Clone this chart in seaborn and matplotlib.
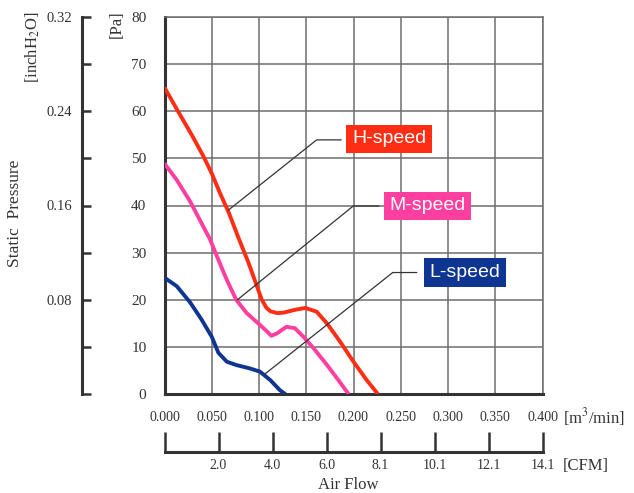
import numpy as np
import pandas as pd
import seaborn as sns
import matplotlib
matplotlib.use("Agg")
import matplotlib.pyplot as plt

# fan P-Q curves
h_flow = [0.000, 0.013, 0.029, 0.041, 0.050, 0.059, 0.068, 0.078, 0.089, 0.098, 0.103, 0.108,
          0.112, 0.119, 0.126, 0.138, 0.149, 0.161, 0.172, 0.186, 0.200, 0.214, 0.226]
h_pres = [65.0, 60.4, 54.9, 50.5, 46.8, 42.5, 38.5, 33.3, 27.8, 22.8, 20.0, 18.3,
          17.6, 17.2, 17.3, 17.9, 18.3, 17.5, 15.0, 11.1, 6.9, 3.0, 0.0]

m_flow = [0.000, 0.013, 0.027, 0.048, 0.057, 0.066, 0.076, 0.087, 0.101, 0.108, 0.113,
          0.119, 0.129, 0.138, 0.147, 0.158, 0.172, 0.184, 0.195]
m_pres = [48.9, 45.4, 40.9, 32.9, 28.5, 24.2, 20.0, 17.2, 14.7, 13.4, 12.4,
          12.9, 14.3, 14.0, 12.2, 9.7, 6.2, 3.0, 0.0]

l_flow = [0.000, 0.013, 0.027, 0.039, 0.050, 0.057, 0.066, 0.076, 0.090, 0.101, 0.112, 0.122, 0.128]
l_pres = [24.7, 22.9, 19.5, 15.9, 12.2, 8.8, 6.9, 6.2, 5.5, 4.8, 3.0, 0.9, 0.0]

speed_names = ["H-speed", "M-speed", "L-speed"]
speed_colors = ["#FF2D14", "#FF3FA0", "#0E3591"]

# label boxes (centre) and leader lines: curve point -> elbow -> box
label_xy = [(0.2376, 54.1), (0.2783, 39.9), (0.318, 25.8)]
leader_x = [[0.0675, 0.161, 0.187], [0.077, 0.1998, 0.227], [0.1063, 0.2415, 0.267]]
leader_y = [[39.0, 53.9, 53.9], [20.0, 39.9, 39.9], [4.3, 25.8, 25.8]]

m3_ticks = [0.0, 0.05, 0.10, 0.15, 0.20, 0.25, 0.30, 0.35, 0.40]
m3_labels = ["0.000", "0.050", "0.100", "0.150", "0.200", "0.250", "0.300", "0.350", "0.400"]
pa_ticks = [0, 10, 20, 30, 40, 50, 60, 70, 80]
inch_ticks = [0.0, 0.04, 0.08, 0.12, 0.16, 0.20, 0.24, 0.28, 0.32]
inch_labels = ["", "", "0.08", "", "0.16", "", "0.24", "", "0.32"]
cfm_labels = ["", "2.0", "4.0", "6.0", "8.1", "10.1", "12.1", "14.1"]
cfm_max = 14.13

sns.set_style("white")
plt.rcParams["font.family"] = ["Liberation Serif", "DejaVu Serif"]
plt.rcParams["mathtext.fontset"] = "stix"

df = pd.concat([
    pd.DataFrame({"flow": h_flow, "pres": h_pres, "speed": "H-speed"}),
    pd.DataFrame({"flow": m_flow, "pres": m_pres, "speed": "M-speed"}),
    pd.DataFrame({"flow": l_flow, "pres": l_pres, "speed": "L-speed"}),
])

W, H = 634, 493
fig = plt.figure(figsize=(W / 100, H / 100), dpi=100)
ax_l, ax_b, ax_w, ax_h = 164.5 / W, 1 - 394.3 / H, 378 / W, 377.6 / H
ax = fig.add_axes([ax_l, ax_b, ax_w, ax_h])

sns.lineplot(data=df, x="flow", y="pres", hue="speed", hue_order=speed_names,
             palette=speed_colors, linewidth=2.8, sort=False, estimator=None,
             legend=False, ax=ax, zorder=3, solid_joinstyle="round", solid_capstyle="butt")

ax.set_xlim(0, 0.4)
ax.set_ylim(0, 80)
ax.set_xticks(m3_ticks)
ax.set_xticklabels(m3_labels)
ax.set_yticks(pa_ticks)
ax.tick_params(axis="x", length=0, pad=12, labelsize=10, labelcolor="#333333")
ax.tick_params(axis="y", length=0, pad=13, labelsize=11, labelcolor="#333333")
ax.grid(True, color="#6e6e6e", linewidth=1.1)
ax.set_xlabel("")
ax.set_ylabel("")
for side in ["left", "bottom"]:
    ax.spines[side].set_color("#333333")
    ax.spines[side].set_linewidth(2.2)
for side in ["top", "right"]:
    ax.spines[side].set_color("#6e6e6e")
    ax.spines[side].set_linewidth(1.1)

for name, col, (lx, ly), xs, ys in zip(speed_names, speed_colors, label_xy, leader_x, leader_y):
    ax.plot(xs, ys, color="#333333", linewidth=0.9, zorder=4)
    ax.text(lx, ly, name, ha="center", va="center", color="white", fontsize=14,
            family=["Liberation Sans", "DejaVu Sans"], zorder=5,
            bbox=dict(boxstyle="square,pad=0.3", facecolor=col, edgecolor="none"))

# secondary pressure axis in inchH2O
ax_in = fig.add_axes([81.7 / W, ax_b, 0.0001, ax_h])
ax_in.set_ylim(0, 0.32)
ax_in.set_yticks(inch_ticks)
ax_in.set_yticklabels(inch_labels)
ax_in.set_xticks([])
ax_in.tick_params(axis="y", left=True, direction="in", length=6.5, width=1.8, color="#333333",
                  pad=7, labelsize=10.5, labelcolor="#333333")
for side in ["top", "right", "bottom"]:
    ax_in.spines[side].set_visible(False)
ax_in.spines["left"].set_color("#333333")
ax_in.spines["left"].set_linewidth(2.2)
ax_in.patch.set_alpha(0)

# secondary flow axis in CFM
ax_cfm = fig.add_axes([ax_l, 1 - 451.7 / H, ax_w, 0.0001])
ax_cfm.set_xlim(0, cfm_max)
ax_cfm.set_xticks(np.linspace(0, cfm_max, len(cfm_labels)))
ax_cfm.set_xticklabels(cfm_labels)
ax_cfm.set_yticks([])
ax_cfm.tick_params(axis="x", bottom=True, direction="in", length=14.5, width=1.8, color="#333333",
                   pad=5, labelsize=10, labelcolor="#333333")
for side in ["top", "right", "left"]:
    ax_cfm.spines[side].set_visible(False)
ax_cfm.spines["bottom"].set_color("#333333")
ax_cfm.spines["bottom"].set_linewidth(2.2)
ax_cfm.patch.set_alpha(0)

# axis titles and units
tc = "#333333"
fig.text(15 / W, 1 - 213 / H, "Static  Pressure", rotation=90, ha="center", va="center",
         fontsize=12.5, color=tc)
fig.text(33 / W, 1 - 47 / H, "[inchH$_2$O]", rotation=90, ha="center", va="center",
         fontsize=12, color=tc)
fig.text(116.5 / W, 1 - 24.5 / H, "[Pa]", rotation=90, ha="center", va="center",
         fontsize=12, color=tc)
fig.text(563 / W, 1 - 416.7 / H, "[m$^3$/min]", ha="left", va="center", fontsize=12, color=tc)
fig.text(563 / W, 1 - 466 / H, "[CFM]", ha="left", va="center", fontsize=12, color=tc)
fig.text(348 / W, 1 - 485 / H, "Air Flow", ha="center", va="center", fontsize=12, color=tc)

fig.savefig("out.png", dpi=100)
